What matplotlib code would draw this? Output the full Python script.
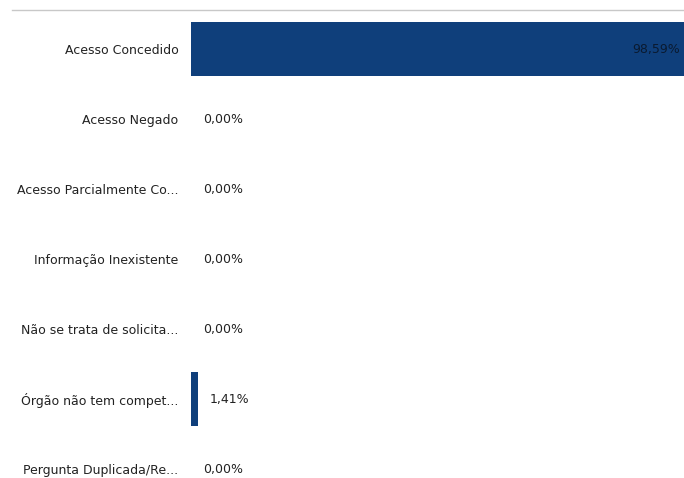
import matplotlib.pyplot as plt
from matplotlib.lines import Line2D

categories = ['Acesso Concedido', 'Acesso Negado', 'Acesso Parcialmente Co...',
              'Informação Inexistente', 'Não se trata de solicita...',
              'Órgão não tem compet...', 'Pergunta Duplicada/Re...']
values = [98.59, 0.00, 0.00, 0.00, 0.00, 1.41, 0.00]
value_labels = ['98,59%', '0,00%', '0,00%', '0,00%', '0,00%', '1,41%', '0,00%']

BAR_COLOR = '#0f3f7b'
TEXT_COLOR = '#222222'

fig = plt.figure(figsize=(6.84, 4.78), dpi=100)
W, H = 684, 478
ax = fig.add_axes([191 / W, 0, 493 / W, 464 / H])

y = range(len(categories))
ax.barh(y, values, height=0.76, color=BAR_COLOR)
ax.set_xlim(0, max(values))
ax.set_ylim(6 + 9 / 70, -0.5)

for i, (v, lab) in enumerate(zip(values, value_labels)):
    if v > 50:
        ax.text(v - 0.7, i, lab, ha='right', va='center', fontsize=9, color='#0a1a30')
    elif v > 0:
        ax.text(v + 2.4, i, lab, ha='left', va='center', fontsize=9, color=TEXT_COLOR)
    else:
        ax.text(2.4, i, lab, ha='left', va='center', fontsize=9, color=TEXT_COLOR)

ax.set_yticks(list(y))
ax.set_yticklabels(categories, fontsize=9, color=TEXT_COLOR)
ax.tick_params(axis='y', length=0, pad=9)
ax.set_xticks([])
for s in ax.spines.values():
    s.set_visible(False)

# thin grey rule across the top
fig.add_artist(Line2D([12 / W, 1], [1 - 10 / H, 1 - 10 / H], color='#c8c8c8', lw=1))

fig.savefig('out.png', dpi=100)
